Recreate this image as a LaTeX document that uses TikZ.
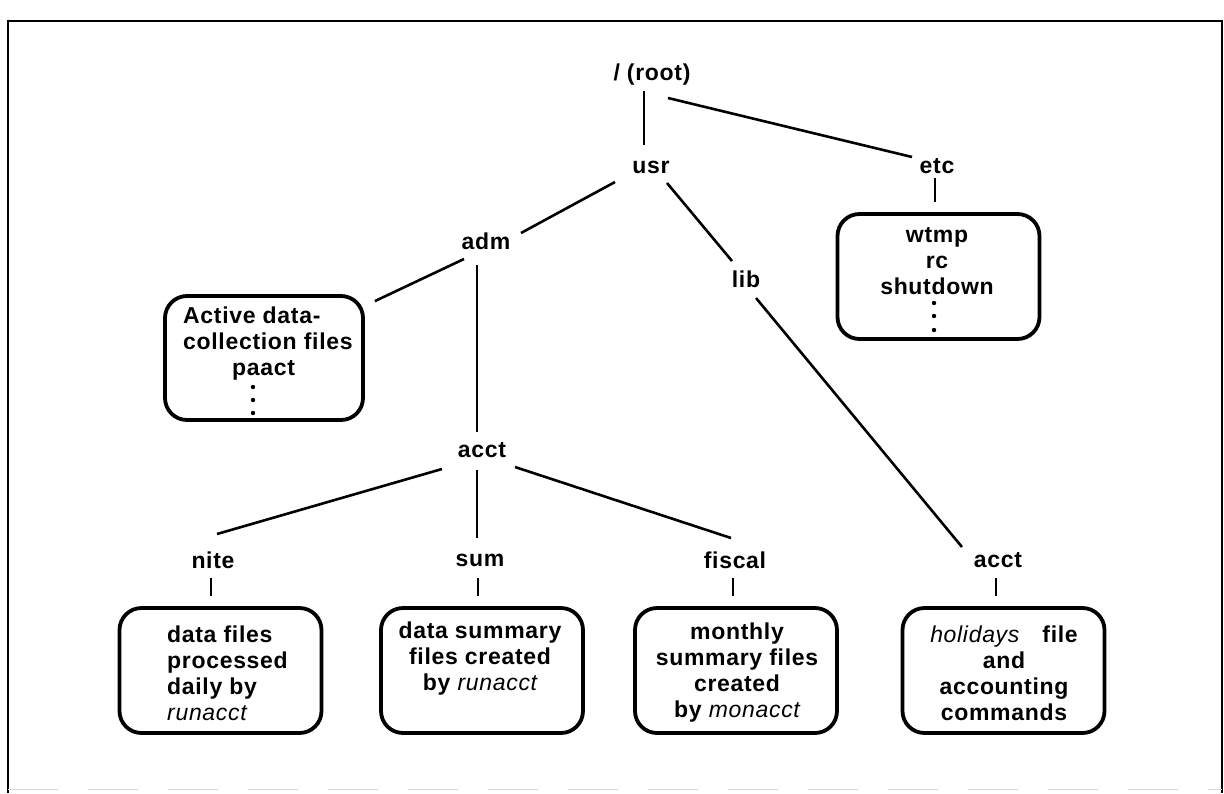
\documentclass[tikz,border=0pt]{standalone}
\usepackage{fontspec}
\setmainfont{Liberation Sans}[LetterSpace=3]
\newcommand\prog[1]{{\mdseries\itshape #1}}
\begin{document}
\begin{tikzpicture}[x=1pt,y=-1pt,
  lbl/.style={font=\fontsize{23}{26}\selectfont\bfseries, inner sep=0pt},
  txt/.style={font=\fontsize{23}{26}\selectfont\bfseries, align=center, inner sep=0pt},
  box/.style={draw, line width=3.8pt, rounded corners=22pt, line join=round,
              minimum width=202pt, minimum height=125pt, inner sep=0pt},
  link/.style={line width=2.6pt},
  frame/.style={line width=2.4pt},
  dot/.style={fill=black}]
\useasboundingbox (0,0) rectangle (1224,793);

% page frame
\draw[frame] (8,793) -- (8,21) -- (1222,21) -- (1222,793);
\draw[gray!30, line width=1pt, dash pattern=on 50pt off 30pt] (8,789) -- (1222,789);

% directory names
\node[lbl] (root)    at (652,75)  {/ (root)};
\node[lbl] (usr)     at (651,167) {usr};
\node[lbl] (etc)     at (937,166) {etc};
\node[lbl] (adm)     at (486,241) {adm};
\node[lbl] (lib)     at (746,279) {lib};
\node[lbl] (acct)    at (482,450) {acct};
\node[lbl] (nite)    at (213,560) {nite};
\node[lbl] (sum)     at (480,560) {sum};
\node[lbl] (fiscal)  at (735,560) {fiscal};
\node[lbl] (libacct) at (998,560) {acct};

% file boxes
\node[box] (etcbox) at (938.5,276.5) {};
\node[box, minimum width=198pt, minimum height=124pt] (admbox) at (264,358) {};
\node[box] (nitebox)   at (220.5,670.5) {};
\node[box] (sumbox)    at (482,670.5)   {};
\node[box] (fiscalbox) at (736,670.5)   {};
\node[box] (libbox)    at (1003.5,670.5) {};

% box contents
\node[txt] (etctext) at (937,261) {wtmp\\rc\\shutdown};
\fill[dot] (934,303) circle (2.2pt) (934,316) circle (2.2pt) (934,330) circle (2.2pt);
\node[txt, align=left, anchor=west] (admtext) at (183,344)
  {Active data-\\collection files\\\hspace*{49pt}paact};
\fill[dot] (253,387) circle (2.2pt) (253,400) circle (2.2pt) (253,413) circle (2.2pt);
\node[txt, align=left, anchor=west] (nitetext) at (167,673)
  {data files\\processed\\daily by\\\prog{runacct}};
\node[txt] (sumtext) at (480,673) {data summary\\files created\\by \prog{runacct}\\\strut};
\node[txt] (fiscaltext) at (737,673) {monthly\\summary files\\created\\by \prog{monacct}};
\node[txt] (libtext) at (1004,673) {\prog{holidays}\quad file\\and\\accounting\\commands};

% tree connectors
\draw[link] ([shift={(-8,16)}]root.center) -- ([shift={(-7,-22)}]usr.center);
\draw[link] ([shift={(16,23)}]root.center) -- ([shift={(-25,-9)}]etc.center);
\draw[link] ([shift={(-2,12)}]etc.center) -- ([shift={(-3.5,-10)}]etcbox.north);
\draw[link] ([shift={(-36,15)}]usr.center) -- ([shift={(35,-8)}]adm.center);
\draw[link] ([shift={(16,16)}]usr.center) -- ([shift={(-14,-18)}]lib.center);
\draw[link] ([shift={(10,19)}]lib.center) -- ([shift={(-36,-13)}]libacct.center);
\draw[link] ([shift={(-22,18)}]adm.center) -- ([shift={(10,7)}]admbox.north east);
\draw[link] ([shift={(-9,24)}]adm.center) -- ([shift={(-5,-18)}]acct.center);
\draw[link] ([shift={(-40,19)}]acct.center) -- ([shift={(4,-26)}]nite.center);
\draw[link] ([shift={(-5,20)}]acct.center) -- ([shift={(-3,-22)}]sum.center);
\draw[link] ([shift={(33,17)}]acct.center) -- ([shift={(-4,-22)}]fiscal.center);

% short links down to the boxes
\foreach \n/\b in {nite/nitebox, sum/sumbox, fiscal/fiscalbox, libacct/libbox}
  \draw[link] ([shift={(-2,18)}]\n.center) -- ([shift={(-2,-10)}]\n.center |- \b.north);
\end{tikzpicture}
\end{document}
